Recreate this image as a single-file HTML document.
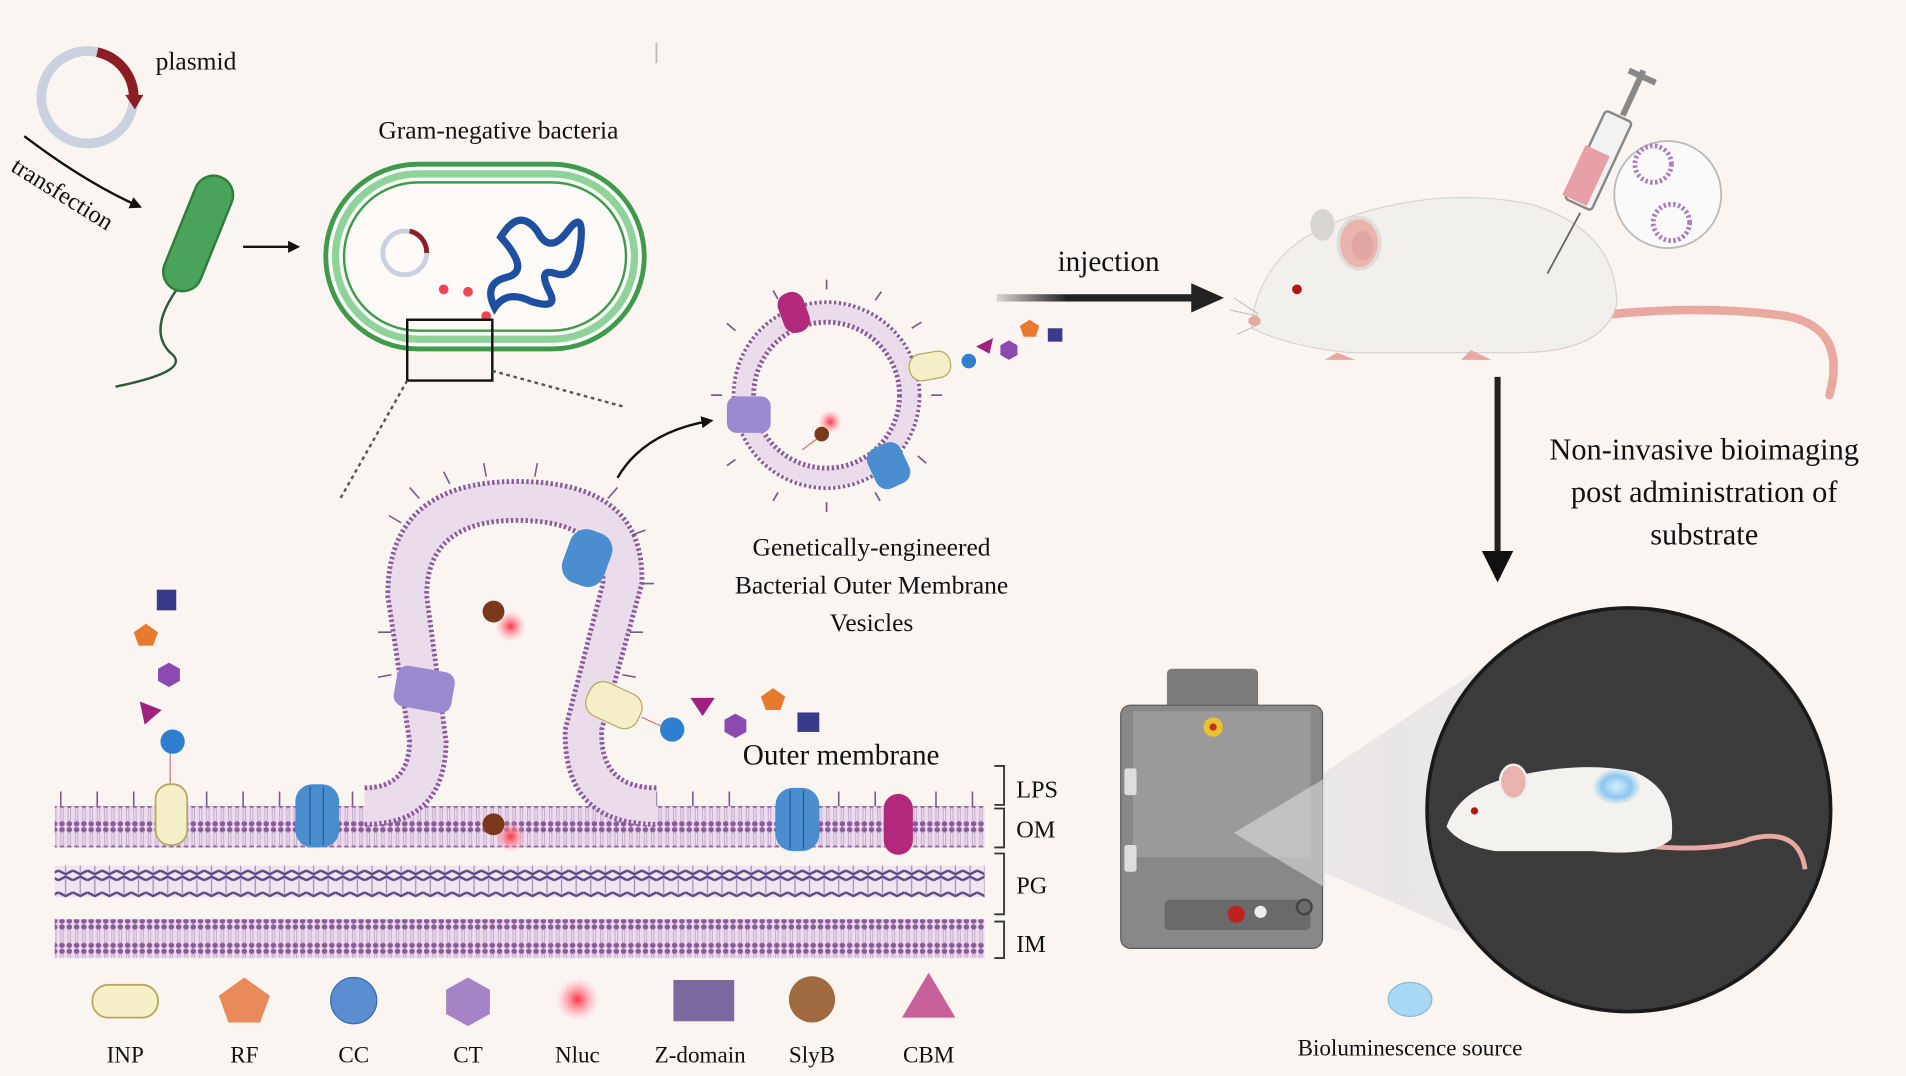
<!DOCTYPE html>
<html><head><meta charset="utf-8"><style>
html,body{margin:0;padding:0;background:#fbf5f2;}
svg{display:block;}
text{font-family:"Liberation Serif",serif;fill:#111;}
</style></head><body>
<svg width="1906" height="1076" viewBox="0 0 1568 885" preserveAspectRatio="none" xmlns="http://www.w3.org/2000/svg">
<defs>
<marker id="ah" markerWidth="10" markerHeight="10" refX="8" refY="5" orient="auto" markerUnits="userSpaceOnUse"><path d="M0,0 L10,5 L0,10 z" fill="#111"/></marker>
<marker id="ahb" markerWidth="26" markerHeight="26" refX="22" refY="13" orient="auto" markerUnits="userSpaceOnUse"><path d="M0,0 L26,13 L0,26 z" fill="#111"/></marker>
<radialGradient id="glow"><stop offset="0" stop-color="#ff3040"/><stop offset="0.4" stop-color="#ff7080" stop-opacity="0.7"/><stop offset="1" stop-color="#ffb0b8" stop-opacity="0"/></radialGradient>
<radialGradient id="bglow"><stop offset="0" stop-color="#d8f0ff"/><stop offset="0.6" stop-color="#8cc8f0"/><stop offset="1" stop-color="#8cc8f0" stop-opacity="0"/></radialGradient>
<linearGradient id="beam" x1="0" x2="1"><stop offset="0" stop-color="#d8d8d8" stop-opacity="0.4"/><stop offset="1" stop-color="#e8e8e8" stop-opacity="0.9"/></linearGradient>
<linearGradient id="inj" x1="0" x2="1"><stop offset="0" stop-color="#222" stop-opacity="0.15"/><stop offset="0.35" stop-color="#222"/><stop offset="1" stop-color="#222"/></linearGradient>
<pattern id="mem" width="6" height="20" patternUnits="userSpaceOnUse"><rect width="6" height="20" fill="#ebdcec"/><circle cx="3" cy="2.5" r="2.3" fill="#8a5a9a"/><circle cx="3" cy="17.5" r="2.3" fill="#8a5a9a"/><line x1="2" y1="4" x2="2" y2="16" stroke="#c9a8cf" stroke-width="0.8"/><line x1="4" y1="4" x2="4" y2="16" stroke="#c9a8cf" stroke-width="0.8"/></pattern>
<pattern id="pg" width="12" height="18" patternUnits="userSpaceOnUse"><rect width="12" height="18" fill="#f0e6f0"/><path d="M0,4 L6,1 L12,4" stroke="#5a4a8a" stroke-width="2" fill="none"/><path d="M0,14 L6,17 L12,14" stroke="#5a4a8a" stroke-width="2" fill="none"/><line x1="6" y1="3" x2="6" y2="15" stroke="#a08ab8" stroke-width="1"/></pattern>
</defs>

<!-- plasmid -->
<circle cx="72" cy="80" r="38" fill="none" stroke="#c9d2de" stroke-width="8"/>
<path d="M80,43 A38,38 0 0 1 110,80" fill="none" stroke="#8b1e24" stroke-width="8"/>
<path d="M103,78 L118,78 L111,90 z" fill="#8b1e24"/>
<text x="128" y="57" font-size="21">plasmid</text>
<text x="8" y="140" font-size="20" transform="rotate(32 8 140)">transfection</text>
<path d="M20,112 Q70,150 115,170" fill="none" stroke="#111" stroke-width="2" marker-end="url(#ah)"/>

<!-- green bacterium -->
<path d="M150,232 Q120,270 140,290 Q160,305 95,318" fill="none" stroke="#2c5a3a" stroke-width="2"/>
<rect x="147" y="142" width="32" height="100" rx="16" fill="#4aa35a" stroke="#2e7d3c" stroke-width="2" transform="rotate(22 163 192)"/>
<line x1="200" y1="203" x2="245" y2="203" stroke="#111" stroke-width="2" marker-end="url(#ah)"/>

<!-- gram-negative bacteria -->
<text x="410" y="114" font-size="21" text-anchor="middle">Gram-negative bacteria</text>
<rect x="268" y="135" width="262" height="152" rx="76" fill="#fff" stroke="#3f9a4c" stroke-width="4"/>
<rect x="276" y="143" width="246" height="136" rx="68" fill="#f8fbf6" stroke="#8fd29a" stroke-width="6"/>
<rect x="283" y="150" width="232" height="122" rx="61" fill="#fdfaf8" stroke="#3f9a4c" stroke-width="2"/>
<circle cx="333" cy="208" r="18" fill="none" stroke="#c9d2de" stroke-width="4"/>
<path d="M337,190 A18,18 0 0 1 351,208" fill="none" stroke="#8b1e24" stroke-width="4"/>
<path d="M412,195 q15,-25 30,-5 q10,20 25,0 q15,-20 10,15 q-5,25 -20,20 q-15,-5 -5,15 q8,15 -15,8 q-20,-10 -30,5 q-10,-20 10,-25 q20,-5 -5,-33z" fill="none" stroke="#1f4fa0" stroke-width="6"/>
<circle cx="365" cy="238" r="4" fill="#ee4455"/><circle cx="385" cy="240" r="4" fill="#ee4455"/><circle cx="400" cy="260" r="4" fill="#ee4455"/>
<rect x="335" y="263" width="70" height="50" fill="none" stroke="#111" stroke-width="2"/>
<line x1="335" y1="313" x2="280" y2="410" stroke="#555" stroke-width="2" stroke-dasharray="3,3"/>
<line x1="405" y1="305" x2="515" y2="335" stroke="#555" stroke-width="2" stroke-dasharray="3,3"/>
<line x1="540" y1="35" x2="540" y2="52" stroke="#bbb" stroke-width="1.5"/>

<!-- vesicle -->
<g stroke="#7a5a8a" stroke-width="1.4">
<line x1="680" y1="238" x2="680" y2="230"/><line x1="720" y1="247" x2="725" y2="240"/><line x1="750" y1="270" x2="758" y2="265"/><line x1="766" y1="325" x2="775" y2="325"/><line x1="755" y1="375" x2="762" y2="381"/><line x1="720" y1="405" x2="724" y2="412"/><line x1="680" y1="413" x2="680" y2="421"/><line x1="640" y1="405" x2="636" y2="412"/><line x1="605" y1="378" x2="598" y2="383"/><line x1="594" y1="325" x2="585" y2="325"/><line x1="605" y1="272" x2="598" y2="266"/><line x1="640" y1="246" x2="636" y2="239"/>
</g>
<circle cx="680" cy="325" r="76" fill="none" stroke="#8a5a9a" stroke-width="4" stroke-dasharray="2,2"/>
<circle cx="680" cy="325" r="68" fill="none" stroke="#ebdcec" stroke-width="14"/>
<circle cx="680" cy="325" r="60" fill="none" stroke="#8a5a9a" stroke-width="4" stroke-dasharray="2,2"/>
<rect x="642" y="240" width="22" height="34" rx="10" fill="#b2287a" transform="rotate(-20 653 257)"/>
<rect x="748" y="290" width="34" height="22" rx="10" fill="#f4efc8" stroke="#b9a860" transform="rotate(-10 765 301)"/>
<rect x="598" y="326" width="36" height="30" rx="8" fill="#9a8ad0"/>
<rect x="716" y="365" width="30" height="36" rx="10" fill="#4a8ed0" transform="rotate(-25 731 383)"/>
<circle cx="683" cy="347" r="10" fill="url(#glow)"/>
<line x1="676" y1="358" x2="660" y2="370" stroke="#c77" stroke-width="1"/>
<circle cx="676" cy="357" r="6" fill="#7a3a1a"/>
<circle cx="797" cy="297" r="6" fill="#2f7fd0"/>
<path d="M803,285 l14,-7 l-3,13z" fill="#a02080"/>
<path d="M830,280 l7,4 v8 l-7,4 l-7,-4 v-8z" fill="#8a4ab0"/>
<path d="M847,263 l8,5 l-3,9 h-10 l-3,-9z" fill="#e87a30"/>
<rect x="862" y="270" width="12" height="11" fill="#3a3a8a"/>
<path d="M508,393 Q530,355 585,346" fill="none" stroke="#111" stroke-width="2" marker-end="url(#ah)"/>
<text x="717" y="457" font-size="21" text-anchor="middle">Genetically-engineered</text>
<text x="717" y="488" font-size="21" text-anchor="middle">Bacterial Outer Membrane</text>
<text x="717" y="519" font-size="21" text-anchor="middle">Vesicles</text>

<!-- membrane layers -->
<rect x="45" y="663" width="765" height="34" fill="url(#mem)"/>
<rect x="45" y="712" width="765" height="26" fill="url(#pg)"/>
<rect x="45" y="756" width="765" height="32" fill="url(#mem)"/>
<g stroke="#7a5a8a" stroke-width="1.3">
<path d="M50,663 v-12 M80,663 v-12 M110,663 v-12 M170,663 v-12 M200,663 v-12 M230,663 v-12 M290,663 v-12 M540,663 v-12 M570,663 v-12 M600,663 v-12 M690,663 v-12 M720,663 v-12 M770,663 v-12 M800,663 v-12"/>
</g>
<!-- omega bulge -->
<path d="M300,663 Q350,663 352,610 L335,490 Q335,412 425,412 Q515,412 512,480 L480,600 Q478,663 540,663" fill="none" stroke="#ebdcec" stroke-width="32"/>
<path d="M300,648 Q336,648 337,610 L319,490 Q319,396 425,396 Q531,396 528,480 L495,600 Q493,648 540,648" fill="none" stroke="#8a5a9a" stroke-width="4" stroke-dasharray="2,2"/>
<path d="M300,678 Q366,678 367,610 L351,490 Q351,428 425,428 Q499,428 496,480 L465,600 Q463,678 540,678" fill="none" stroke="#8a5a9a" stroke-width="4" stroke-dasharray="2,2"/>
<g stroke="#7a5a8a" stroke-width="1.3">
<path d="M330,430 l-10,-6 M345,410 l-8,-9 M370,398 l-5,-10 M400,392 l-2,-11 M440,392 l2,-11 M500,410 l8,-9 M520,440 l11,-4 M527,480 l11,0 M322,520 l-11,0 M322,555 l-11,2 M518,520 l11,0 M512,555 l11,2"/>
</g>
<rect x="465" y="436" width="36" height="46" rx="14" fill="#4a8ed0" transform="rotate(20 483 459)"/>
<rect x="325" y="550" width="48" height="34" rx="9" fill="#9a8ad0" transform="rotate(10 349 567)"/>
<rect x="482" y="565" width="46" height="30" rx="12" fill="#f4efc8" stroke="#b9a860" transform="rotate(25 505 580)"/>
<circle cx="420" cy="515" r="13" fill="url(#glow)"/>
<circle cx="406" cy="503" r="9" fill="#7a3a1a"/>
<circle cx="420" cy="688" r="13" fill="url(#glow)"/>
<circle cx="406" cy="678" r="9" fill="#7a3a1a"/>
<line x1="528" y1="590" x2="550" y2="600" stroke="#c77"/>
<circle cx="553" cy="600" r="10" fill="#2f7fd0"/>
<path d="M568,574 l20,0 l-10,15z" fill="#a02080"/>
<path d="M605,587 l9,5 v10 l-9,5 l-9,-5 v-10z" fill="#8a4ab0"/>
<path d="M636,566 l10,7 l-4,11 h-12 l-4,-11z" fill="#e87a30"/>
<rect x="656" y="586" width="18" height="16" fill="#3a3a8a"/>
<line x1="140" y1="600" x2="140" y2="650" stroke="#c77"/>
<rect x="128" y="645" width="26" height="50" rx="12" fill="#f4efc8" stroke="#b9a860" stroke-width="1.5"/>
<circle cx="142" cy="610" r="10" fill="#2f7fd0"/>
<path d="M115,577 l18,7 l-14,12z" fill="#a02080"/>
<path d="M139,545 l9,5 v10 l-9,5 l-9,-5 v-10z" fill="#8a4ab0"/>
<path d="M120,513 l10,7 l-4,11 h-12 l-4,-11z" fill="#e87a30"/>
<rect x="129" y="485" width="16" height="17" fill="#3a3a8a"/>
<rect x="243" y="645" width="36" height="52" rx="14" fill="#4a8ed0"/>
<line x1="255" y1="647" x2="255" y2="695" stroke="#2c5a90"/><line x1="266" y1="647" x2="266" y2="695" stroke="#2c5a90"/>
<rect x="638" y="648" width="36" height="52" rx="14" fill="#4a8ed0"/>
<line x1="650" y1="650" x2="650" y2="698" stroke="#2c5a90"/><line x1="661" y1="650" x2="661" y2="698" stroke="#2c5a90"/>
<rect x="727" y="653" width="24" height="50" rx="12" fill="#b2287a"/>
<text x="692" y="629" font-size="24" text-anchor="middle">Outer membrane</text>
<g stroke="#333" stroke-width="1.5" fill="none">
<path d="M818,630 h8 v32 h-8 M818,665 h8 v32 h-8 M818,702 h8 v50 h-8 M818,758 h8 v30 h-8"/>
</g>
<text x="836" y="656" font-size="20">LPS</text>
<text x="836" y="689" font-size="20">OM</text>
<text x="836" y="735" font-size="20">PG</text>
<text x="836" y="783" font-size="20">IM</text>

<!-- legend -->
<rect x="76" y="810" width="54" height="27" rx="13" fill="#f6f0c8" stroke="#b9a860" stroke-width="1.5"/>
<path d="M201,804 l21,15 l-8,22 h-26 l-8,-22z" fill="#e88a5a"/>
<circle cx="291" cy="823" r="19" fill="#5a8ed0" stroke="#3a6ab0"/>
<path d="M385,804 l18,10 v20 l-18,10 l-18,-10 v-20z" fill="#a682c6"/>
<circle cx="475" cy="822" r="18" fill="url(#glow)"/>
<rect x="554" y="806" width="50" height="34" fill="#7a6aa0"/>
<circle cx="668" cy="822" r="19" fill="#a06a40"/>
<path d="M764,800 l22,37 h-44z" fill="#c8609a"/>
<g font-size="19" text-anchor="middle"><text x="103" y="874">INP</text><text x="201" y="874">RF</text><text x="291" y="874">CC</text><text x="385" y="874">CT</text><text x="475" y="874">Nluc</text><text x="576" y="874">Z-domain</text><text x="668" y="874">SlyB</text><text x="764" y="874">CBM</text></g>

<!-- injection -->
<text x="912" y="223" font-size="24" text-anchor="middle">injection</text>
<rect x="820" y="242" width="165" height="6" fill="url(#inj)"/>
<path d="M980,233 L1007,245 L980,257z" fill="#222"/>

<!-- top mouse -->
<path d="M1310,260 Q1400,250 1470,260 Q1520,270 1505,325" fill="none" stroke="#e9a8a0" stroke-width="7" stroke-linecap="round"/>
<path d="M1030,262 Q1040,205 1100,182 Q1180,152 1260,168 Q1330,190 1330,250 Q1320,290 1250,290 L1110,290 Q1060,285 1030,270z" fill="#f2f0ed" stroke="#d8d4d0"/>
<ellipse cx="1088" cy="185" rx="10" ry="13" fill="#d8d6d2"/>
<ellipse cx="1118" cy="200" rx="17" ry="21" fill="#e9b4ae" stroke="#e0dcd8" stroke-width="3"/>
<ellipse cx="1121" cy="202" rx="9" ry="12" fill="#dc9c98" opacity="0.6"/>
<circle cx="1067" cy="238" r="4" fill="#b01818"/>
<ellipse cx="1032" cy="264" rx="5" ry="4" fill="#e9a8a0"/>
<g stroke="#bbb" stroke-width="0.8"><line x1="1035" y1="258" x2="1015" y2="245"/><line x1="1035" y1="260" x2="1012" y2="255"/><line x1="1037" y1="266" x2="1018" y2="275"/></g>
<path d="M1100,290 l-10,6 h25z M1210,288 l-8,8 h25z" fill="#e9a8a0"/>
<!-- syringe -->
<line x1="1273" y1="225" x2="1300" y2="175" stroke="#666" stroke-width="1.5"/>
<rect x="1303" y="92" width="24" height="80" rx="3" fill="#f2f2f2" stroke="#888" stroke-width="2" transform="rotate(25 1315 132)"/>
<rect x="1300" y="125" width="22" height="45" fill="#e8a0a8" transform="rotate(25 1315 132)"/>
<line x1="1335" y1="95" x2="1352" y2="58" stroke="#888" stroke-width="5"/>
<line x1="1340" y1="58" x2="1362" y2="68" stroke="#888" stroke-width="5"/>
<circle cx="1372" cy="160" r="44" fill="#fbfafa" stroke="#bbb" stroke-width="1.5"/>
<circle cx="1360" cy="135" r="15" fill="none" stroke="#a87ac0" stroke-width="4" stroke-dasharray="2,2"/>
<circle cx="1375" cy="183" r="15" fill="none" stroke="#a87ac0" stroke-width="4" stroke-dasharray="2,2"/>

<line x1="1232" y1="310" x2="1232" y2="475" stroke="#222" stroke-width="5" marker-end="url(#ahb)"/>
<g font-size="25" text-anchor="middle"><text x="1402" y="378">Non-invasive bioimaging</text><text x="1402" y="413">post administration of</text><text x="1402" y="448">substrate</text></g>

<!-- imaging -->
<path d="M1015,685 L1255,525 L1255,790z" fill="url(#beam)"/>
<circle cx="1340" cy="666" r="166" fill="#3b3b3b" stroke="#1a1a1a" stroke-width="3"/>
<path d="M1310,690 Q1400,705 1440,690 Q1480,680 1485,715" fill="none" stroke="#e9a8a0" stroke-width="4"/>
<path d="M1190,680 Q1200,650 1240,640 Q1300,625 1345,635 Q1380,650 1375,690 Q1360,705 1310,700 L1230,700 Q1200,695 1190,680z" fill="#f4f2ef"/>
<ellipse cx="1245" cy="643" rx="11" ry="14" fill="#e9b4ae" stroke="#eee" stroke-width="2"/>
<circle cx="1213" cy="667" r="3" fill="#b01818"/>
<ellipse cx="1330" cy="647" rx="20" ry="15" fill="url(#bglow)"/>
<rect x="960" y="550" width="75" height="35" rx="4" fill="#7c7c7c"/>
<rect x="922" y="580" width="166" height="200" rx="8" fill="#888" stroke="#5a5a5a"/>
<rect x="932" y="585" width="146" height="120" fill="#9a9a9a"/>
<circle cx="998" cy="598" r="8" fill="#e8c030"/><circle cx="998" cy="598" r="3" fill="#c03020"/>
<rect x="925" y="632" width="10" height="22" rx="2" fill="#ddd"/><rect x="925" y="695" width="10" height="22" rx="2" fill="#ddd"/>
<rect x="958" y="740" width="120" height="25" rx="4" fill="#6a6a6a"/>
<circle cx="1017" cy="752" r="7" fill="#c02020"/><circle cx="1037" cy="750" r="5" fill="#eee"/><circle cx="1073" cy="746" r="6" fill="none" stroke="#444" stroke-width="2"/>
<path d="M1015,685 L1090,640 L1090,730z" fill="#dcdcdc" opacity="0.6"/>
<ellipse cx="1160" cy="822" rx="18" ry="14" fill="#a8d8f4" stroke="#88b8d8"/>
<text x="1160" y="868" font-size="19" text-anchor="middle">Bioluminescence source</text>
</svg>
</body></html>
